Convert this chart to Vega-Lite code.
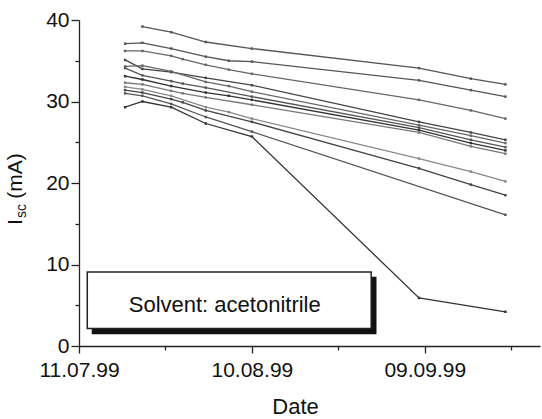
{
  "$schema": "https://vega.github.io/schema/vega-lite/v6.json",
  "width": 461,
  "height": 326,
  "autosize": {"type": "none"},
  "padding": {"left": 79, "top": 20, "right": 2, "bottom": 73},
  "background": "white",
  "config": {"view": {"stroke": null}, "font": "Liberation Sans"},
  "datasets": {
    "iv": [
      {"sample": "S1", "date": "1999-07-22", "isc": 39.2},
      {"sample": "S1", "date": "1999-07-27", "isc": 38.5},
      {"sample": "S1", "date": "1999-08-02", "isc": 37.3},
      {"sample": "S1", "date": "1999-08-10", "isc": 36.5},
      {"sample": "S1", "date": "1999-09-08", "isc": 34.1},
      {"sample": "S1", "date": "1999-09-17", "isc": 32.8},
      {"sample": "S1", "date": "1999-09-23", "isc": 32.1},

      {"sample": "S2", "date": "1999-07-19", "isc": 37.1},
      {"sample": "S2", "date": "1999-07-22", "isc": 37.2},
      {"sample": "S2", "date": "1999-07-27", "isc": 36.5},
      {"sample": "S2", "date": "1999-08-02", "isc": 35.5},
      {"sample": "S2", "date": "1999-08-06", "isc": 35.0},
      {"sample": "S2", "date": "1999-08-10", "isc": 34.9},
      {"sample": "S2", "date": "1999-09-08", "isc": 32.6},
      {"sample": "S2", "date": "1999-09-17", "isc": 31.4},
      {"sample": "S2", "date": "1999-09-23", "isc": 30.6},

      {"sample": "S3", "date": "1999-07-19", "isc": 36.2},
      {"sample": "S3", "date": "1999-07-22", "isc": 36.2},
      {"sample": "S3", "date": "1999-07-27", "isc": 35.6},
      {"sample": "S3", "date": "1999-07-29", "isc": 35.2},
      {"sample": "S3", "date": "1999-08-02", "isc": 34.5},
      {"sample": "S3", "date": "1999-08-06", "isc": 33.9},
      {"sample": "S3", "date": "1999-08-10", "isc": 33.4},
      {"sample": "S3", "date": "1999-09-08", "isc": 30.2},
      {"sample": "S3", "date": "1999-09-17", "isc": 28.9},
      {"sample": "S3", "date": "1999-09-23", "isc": 27.9},

      {"sample": "C1", "date": "1999-07-19", "isc": 35.1},
      {"sample": "C1", "date": "1999-07-22", "isc": 34.0},
      {"sample": "C1", "date": "1999-07-27", "isc": 33.6},
      {"sample": "C1", "date": "1999-08-02", "isc": 32.9},
      {"sample": "C1", "date": "1999-08-10", "isc": 32.0},
      {"sample": "C1", "date": "1999-09-08", "isc": 27.5},
      {"sample": "C1", "date": "1999-09-17", "isc": 26.2},
      {"sample": "C1", "date": "1999-09-23", "isc": 25.3},

      {"sample": "C2", "date": "1999-07-19", "isc": 34.3},
      {"sample": "C2", "date": "1999-07-22", "isc": 34.4},
      {"sample": "C2", "date": "1999-07-27", "isc": 33.7},
      {"sample": "C2", "date": "1999-08-02", "isc": 32.4},
      {"sample": "C2", "date": "1999-08-06", "isc": 31.9},
      {"sample": "C2", "date": "1999-08-10", "isc": 31.2},
      {"sample": "C2", "date": "1999-09-08", "isc": 27.1},
      {"sample": "C2", "date": "1999-09-17", "isc": 25.8},
      {"sample": "C2", "date": "1999-09-23", "isc": 24.9},

      {"sample": "C3", "date": "1999-07-19", "isc": 34.1},
      {"sample": "C3", "date": "1999-07-22", "isc": 33.2},
      {"sample": "C3", "date": "1999-07-27", "isc": 32.5},
      {"sample": "C3", "date": "1999-07-29", "isc": 32.2},
      {"sample": "C3", "date": "1999-08-02", "isc": 31.7},
      {"sample": "C3", "date": "1999-08-10", "isc": 30.6},
      {"sample": "C3", "date": "1999-09-08", "isc": 26.8},
      {"sample": "C3", "date": "1999-09-17", "isc": 25.3},
      {"sample": "C3", "date": "1999-09-23", "isc": 24.4},

      {"sample": "C4", "date": "1999-07-19", "isc": 33.1},
      {"sample": "C4", "date": "1999-07-22", "isc": 32.7},
      {"sample": "C4", "date": "1999-07-27", "isc": 31.9},
      {"sample": "C4", "date": "1999-08-02", "isc": 31.1},
      {"sample": "C4", "date": "1999-08-06", "isc": 30.7},
      {"sample": "C4", "date": "1999-08-10", "isc": 30.2},
      {"sample": "C4", "date": "1999-09-08", "isc": 26.5},
      {"sample": "C4", "date": "1999-09-17", "isc": 24.9},
      {"sample": "C4", "date": "1999-09-23", "isc": 24.0},

      {"sample": "C5", "date": "1999-07-19", "isc": 32.3},
      {"sample": "C5", "date": "1999-07-22", "isc": 32.1},
      {"sample": "C5", "date": "1999-07-27", "isc": 31.3},
      {"sample": "C5", "date": "1999-07-29", "isc": 31.0},
      {"sample": "C5", "date": "1999-08-02", "isc": 30.5},
      {"sample": "C5", "date": "1999-08-10", "isc": 29.6},
      {"sample": "C5", "date": "1999-09-08", "isc": 26.2},
      {"sample": "C5", "date": "1999-09-17", "isc": 24.5},
      {"sample": "C5", "date": "1999-09-23", "isc": 23.6},

      {"sample": "La", "date": "1999-07-19", "isc": 31.8},
      {"sample": "La", "date": "1999-07-22", "isc": 31.5},
      {"sample": "La", "date": "1999-07-27", "isc": 30.7},
      {"sample": "La", "date": "1999-08-02", "isc": 29.3},
      {"sample": "La", "date": "1999-08-06", "isc": 28.7},
      {"sample": "La", "date": "1999-08-10", "isc": 27.9},
      {"sample": "La", "date": "1999-09-08", "isc": 23.0},
      {"sample": "La", "date": "1999-09-17", "isc": 21.4},
      {"sample": "La", "date": "1999-09-23", "isc": 20.2},

      {"sample": "Lb", "date": "1999-07-19", "isc": 31.4},
      {"sample": "Lb", "date": "1999-07-22", "isc": 31.1},
      {"sample": "Lb", "date": "1999-07-27", "isc": 30.3},
      {"sample": "Lb", "date": "1999-07-29", "isc": 29.9},
      {"sample": "Lb", "date": "1999-08-02", "isc": 28.9},
      {"sample": "Lb", "date": "1999-08-10", "isc": 27.5},
      {"sample": "Lb", "date": "1999-09-08", "isc": 21.8},
      {"sample": "Lb", "date": "1999-09-17", "isc": 19.8},
      {"sample": "Lb", "date": "1999-09-23", "isc": 18.5},

      {"sample": "Lc", "date": "1999-07-19", "isc": 31.0},
      {"sample": "Lc", "date": "1999-07-22", "isc": 30.7},
      {"sample": "Lc", "date": "1999-07-27", "isc": 29.7},
      {"sample": "Lc", "date": "1999-08-02", "isc": 28.1},
      {"sample": "Lc", "date": "1999-08-10", "isc": 26.3},
      {"sample": "Lc", "date": "1999-09-23", "isc": 16.1},

      {"sample": "Co", "date": "1999-07-19", "isc": 29.3},
      {"sample": "Co", "date": "1999-07-22", "isc": 30.0},
      {"sample": "Co", "date": "1999-07-27", "isc": 29.3},
      {"sample": "Co", "date": "1999-08-02", "isc": 27.3},
      {"sample": "Co", "date": "1999-08-10", "isc": 25.7},
      {"sample": "Co", "date": "1999-09-08", "isc": 5.9},
      {"sample": "Co", "date": "1999-09-23", "isc": 4.2}
    ]
  },
  "layer": [
    {
      "data": {"name": "iv"},
      "mark": {"type": "line", "strokeWidth": 1.3},
      "encoding": {
        "x": {
          "field": "date",
          "type": "temporal",
          "scale": {
            "type": "utc",
            "domain": [
              {"year": 1999, "month": 7, "date": 11, "utc": true},
              {"year": 1999, "month": 9, "date": 29, "utc": true}
            ]
          },
          "axis": {
            "values": [
              {"year": 1999, "month": 7, "date": 11, "utc": true},
              {"year": 1999, "month": 7, "date": 26, "utc": true},
              {"year": 1999, "month": 8, "date": 10, "utc": true},
              {"year": 1999, "month": 8, "date": 25, "utc": true},
              {"year": 1999, "month": 9, "date": 9, "utc": true},
              {"year": 1999, "month": 9, "date": 24, "utc": true}
            ],
            "format": "%d.%m.%y",
            "labelExpr": "utcdate(datum.value) < 20 ? datum.label : ''",
            "tickSize": {"condition": {"test": "utcdate(datum.value) < 20", "value": 7}, "value": 4},
            "title": "Date",
            "titleX": 216,
            "titleY": 67,
            "titleBaseline": "alphabetic",
            "titleFontSize": 22,
            "titleFontWeight": "normal",
            "titleColor": "#111",
            "labelFontSize": 21,
            "labelColor": "#111",
            "labelPadding": 6,
            "labelOverlap": false,
            "labelFlush": false,
            "domainColor": "#222",
            "domainWidth": 1.3,
            "tickColor": "#222",
            "tickWidth": 1.3,
            "grid": false
          }
        },
        "y": {
          "field": "isc",
          "type": "quantitative",
          "scale": {"domain": [0, 40]},
          "axis": {
            "values": [0, 5, 10, 15, 20, 25, 30, 35, 40],
            "labelExpr": "datum.value % 10 === 0 ? datum.label : ''",
            "tickSize": {"condition": {"test": "datum.value % 10 === 0", "value": 8}, "value": 4},
            "title": null,
            "labelFontSize": 21,
            "labelColor": "#111",
            "labelPadding": 2,
            "domainColor": "#222",
            "domainWidth": 1.3,
            "tickColor": "#222",
            "tickWidth": 1.3,
            "grid": false
          }
        },
        "color": {
          "field": "sample",
          "type": "nominal",
          "scale": {
            "domain": ["S1", "S2", "S3", "C1", "C2", "C3", "C4", "C5", "La", "Lb", "Lc", "Co"],
            "range": ["#555555", "#555555", "#666666", "#444444", "#666666", "#555555", "#333333", "#777777", "#888888", "#444444", "#555555", "#333333"]
          },
          "legend": null
        }
      }
    },
    {
      "data": {"name": "iv"},
      "mark": {"type": "point", "shape": "square", "size": 6, "filled": true, "opacity": 1},
      "encoding": {
        "x": {"field": "date", "type": "temporal"},
        "y": {"field": "isc", "type": "quantitative"},
        "color": {"field": "sample", "type": "nominal", "legend": null}
      }
    },
    {
      "data": {"values": [{}]},
      "mark": {"type": "rect", "color": "#111"},
      "encoding": {
        "x": {"datum": {"year": 1999, "month": 7, "date": 13, "hours": 5, "utc": true}, "type": "temporal"},
        "x2": {"datum": {"year": 1999, "month": 8, "date": 31, "hours": 15, "utc": true}},
        "y": {"datum": 1.44, "type": "quantitative"},
        "y2": {"datum": 8.5}
      }
    },
    {
      "data": {"values": [{}]},
      "mark": {"type": "rect", "fill": "white", "stroke": "#222", "strokeWidth": 1.5},
      "encoding": {
        "x": {"datum": {"year": 1999, "month": 7, "date": 12, "hours": 10, "minutes": 30, "utc": true}, "type": "temporal"},
        "x2": {"datum": {"year": 1999, "month": 8, "date": 30, "hours": 17, "utc": true}},
        "y": {"datum": 2.14, "type": "quantitative"},
        "y2": {"datum": 9.09}
      }
    },
    {
      "data": {"values": [{}]},
      "mark": {"type": "text", "text": "Solvent: acetonitrile", "fontSize": 22, "align": "center", "baseline": "middle", "color": "#111"},
      "encoding": {
        "x": {"datum": {"year": 1999, "month": 8, "date": 5, "hours": 7, "utc": true}, "type": "temporal"},
        "y": {"datum": 5.0, "type": "quantitative"}
      }
    },
    {
      "data": {"values": [{}]},
      "mark": {"type": "text", "text": "I", "fontSize": 21, "angle": 270, "align": "center", "baseline": "alphabetic", "dy": -57, "color": "#111"},
      "encoding": {
        "x": {"datum": {"year": 1999, "month": 7, "date": 11, "utc": true}, "type": "temporal"},
        "y": {"datum": 15.2, "type": "quantitative"}
      }
    },
    {
      "data": {"values": [{}]},
      "mark": {"type": "text", "text": "sc", "fontSize": 14, "angle": 270, "align": "center", "baseline": "alphabetic", "dy": -53.5, "color": "#111"},
      "encoding": {
        "x": {"datum": {"year": 1999, "month": 7, "date": 11, "utc": true}, "type": "temporal"},
        "y": {"datum": 16.55, "type": "quantitative"}
      }
    },
    {
      "data": {"values": [{}]},
      "mark": {"type": "text", "text": "(mA)", "fontSize": 21, "angle": 270, "align": "center", "baseline": "alphabetic", "dy": -57, "color": "#111"},
      "encoding": {
        "x": {"datum": {"year": 1999, "month": 7, "date": 11, "utc": true}, "type": "temporal"},
        "y": {"datum": 20.85, "type": "quantitative"}
      }
    }
  ]
}
